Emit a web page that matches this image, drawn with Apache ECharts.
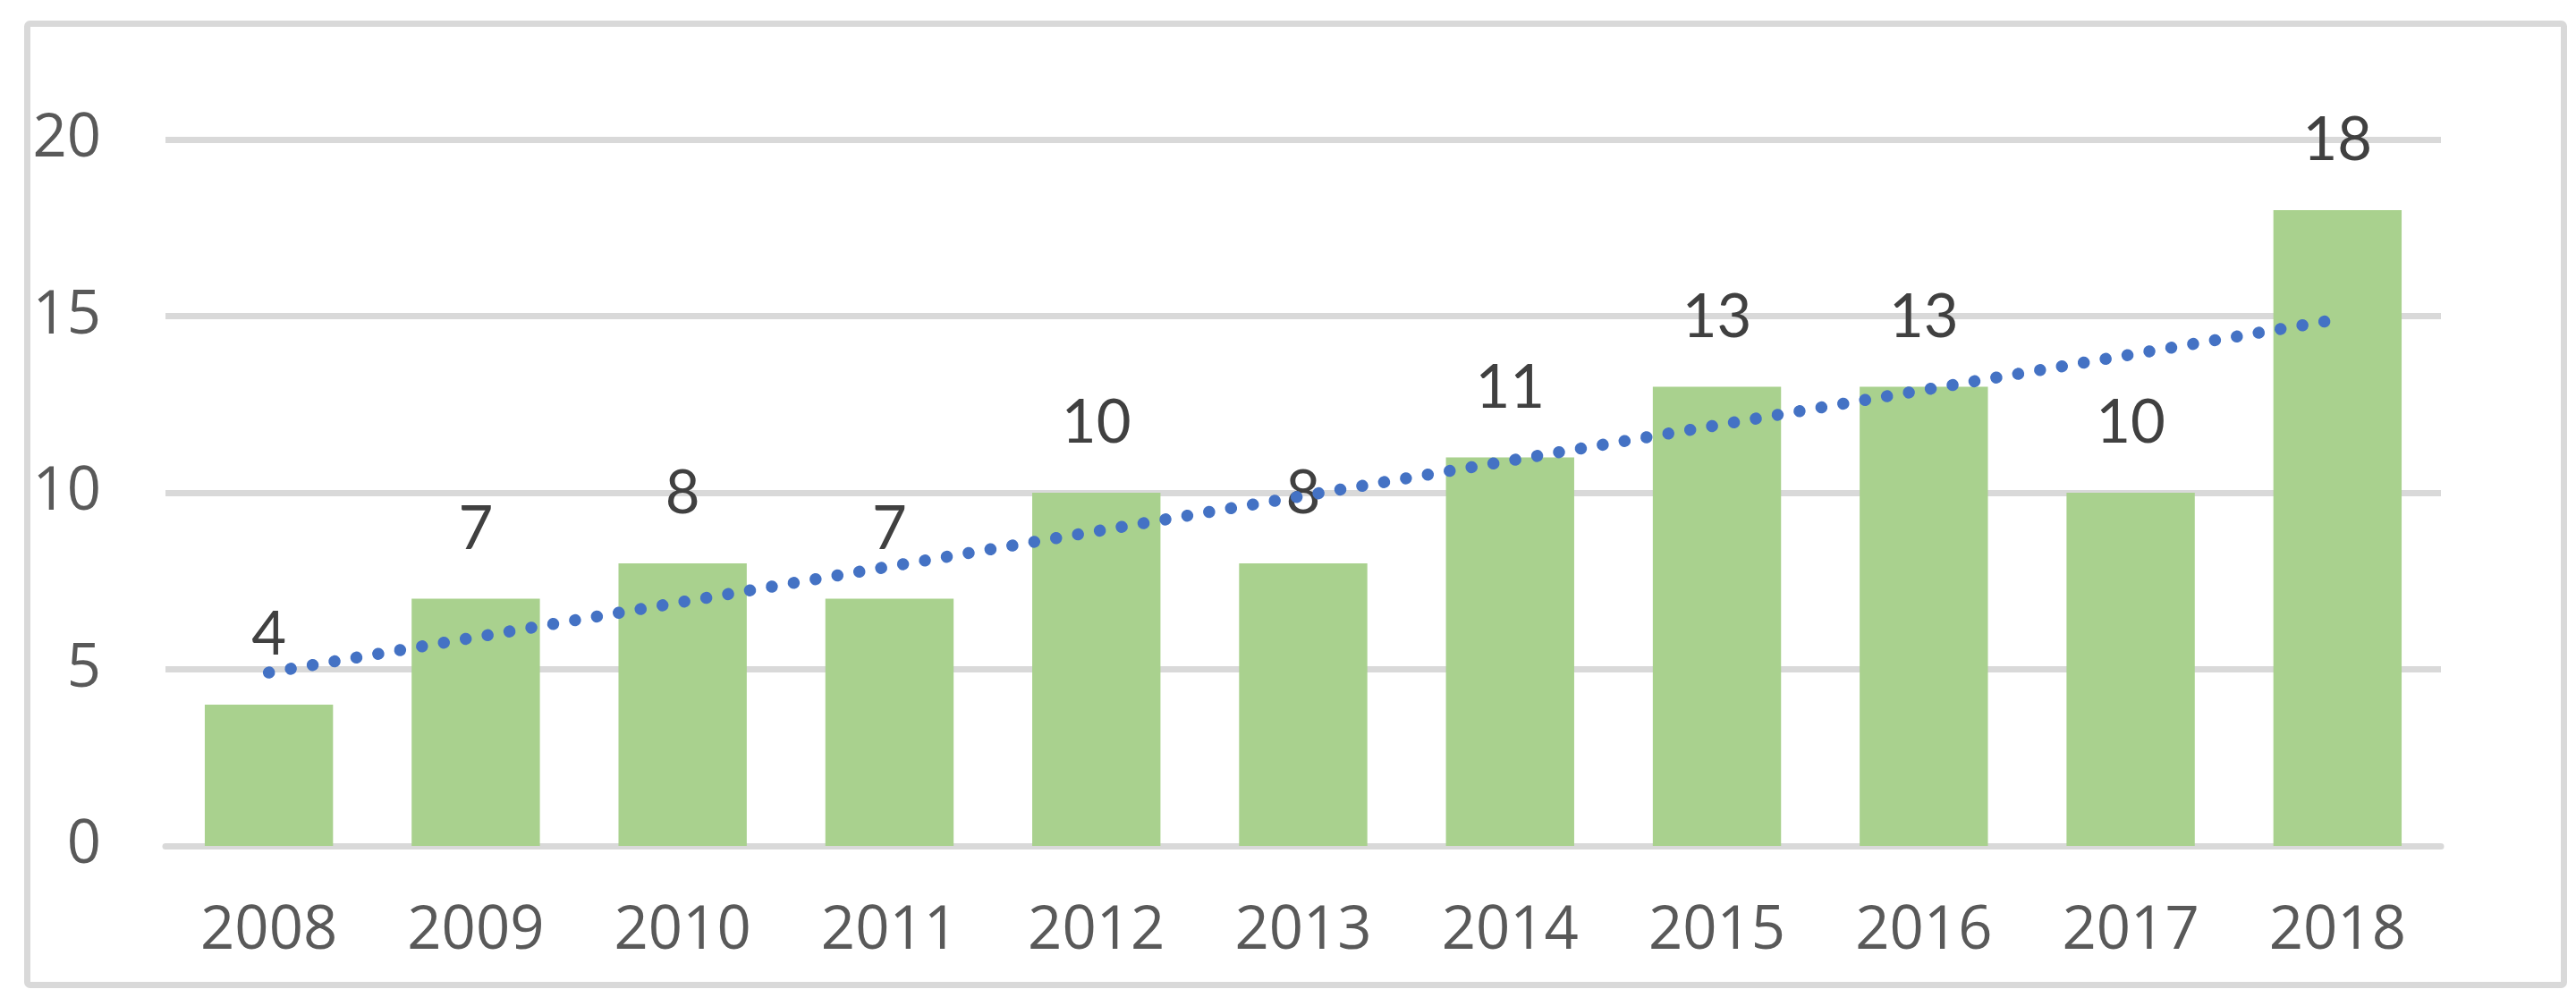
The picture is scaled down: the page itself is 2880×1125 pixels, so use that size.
<!DOCTYPE html>
<html>
<head>
<meta charset="utf-8">
<script src="https://cdn.jsdelivr.net/npm/echarts@6/dist/echarts.min.js"></script>
<style>html,body{margin:0;padding:0;background:#fff}#c{width:2880px;height:1125px}</style>
</head>
<body>
<div id="c"></div>
<script>
const years = ['2008','2009','2010','2011','2012','2013','2014','2015','2016','2017','2018'];
const counts = [4, 7, 8, 7, 10, 8, 11, 13, 13, 10, 18];
// linear trendline endpoints (2008 and 2018)
const trend = [4.91, null, null, null, null, null, null, null, null, null, 14.91];
const yTicks = [0, 5, 10, 15, 20];

const chart = echarts.init(document.getElementById('c'), null, {renderer: 'canvas'});
chart.setOption({
  animation: false,
  backgroundColor: '#ffffff',
  graphic: [{
    type: 'rect', left: 27, top: 23, z: -1,
    shape: {width: 2836, height: 1075, r: 3},
    style: {fill: 'none', stroke: '#d9d9d9', lineWidth: 7}
  }],
  grid: {left: 185, right: 151, top: 156, bottom: 179, containLabel: false},
  xAxis: {
    type: 'category',
    data: years,
    axisLine: {show: true, lineStyle: {color: '#d9d9d9', width: 7}},
    axisTick: {show: false},
    axisLabel: {color: '#595959', fontFamily: 'Open Sans', fontSize: 67, lineHeight: 67, margin: 62}
  },
  yAxis: {
    type: 'value', min: yTicks[0], max: yTicks[yTicks.length - 1], interval: 5,
    axisLine: {show: false}, axisTick: {show: false},
    splitLine: {show: true, lineStyle: {color: '#d9d9d9', width: 7}},
    axisLabel: {color: '#595959', fontFamily: 'Open Sans', fontSize: 67, margin: 72}
  },
  series: [{
    type: 'bar',
    data: counts,
    barCategoryGap: '38%',
    itemStyle: {color: '#a9d18e'},
    label: {show: true, position: 'top', distance: 44, color: '#404040', fontFamily: 'Lato', fontSize: 67, lineHeight: 67}
  }, {
    type: 'line',
    data: trend,
    connectNulls: true,
    symbol: 'none',
    lineStyle: {color: '#4472c4', width: 13.5, type: [0.1, 24.7], cap: 'round'},
    z: 5
  }]
});
</script>
</body>
</html>
